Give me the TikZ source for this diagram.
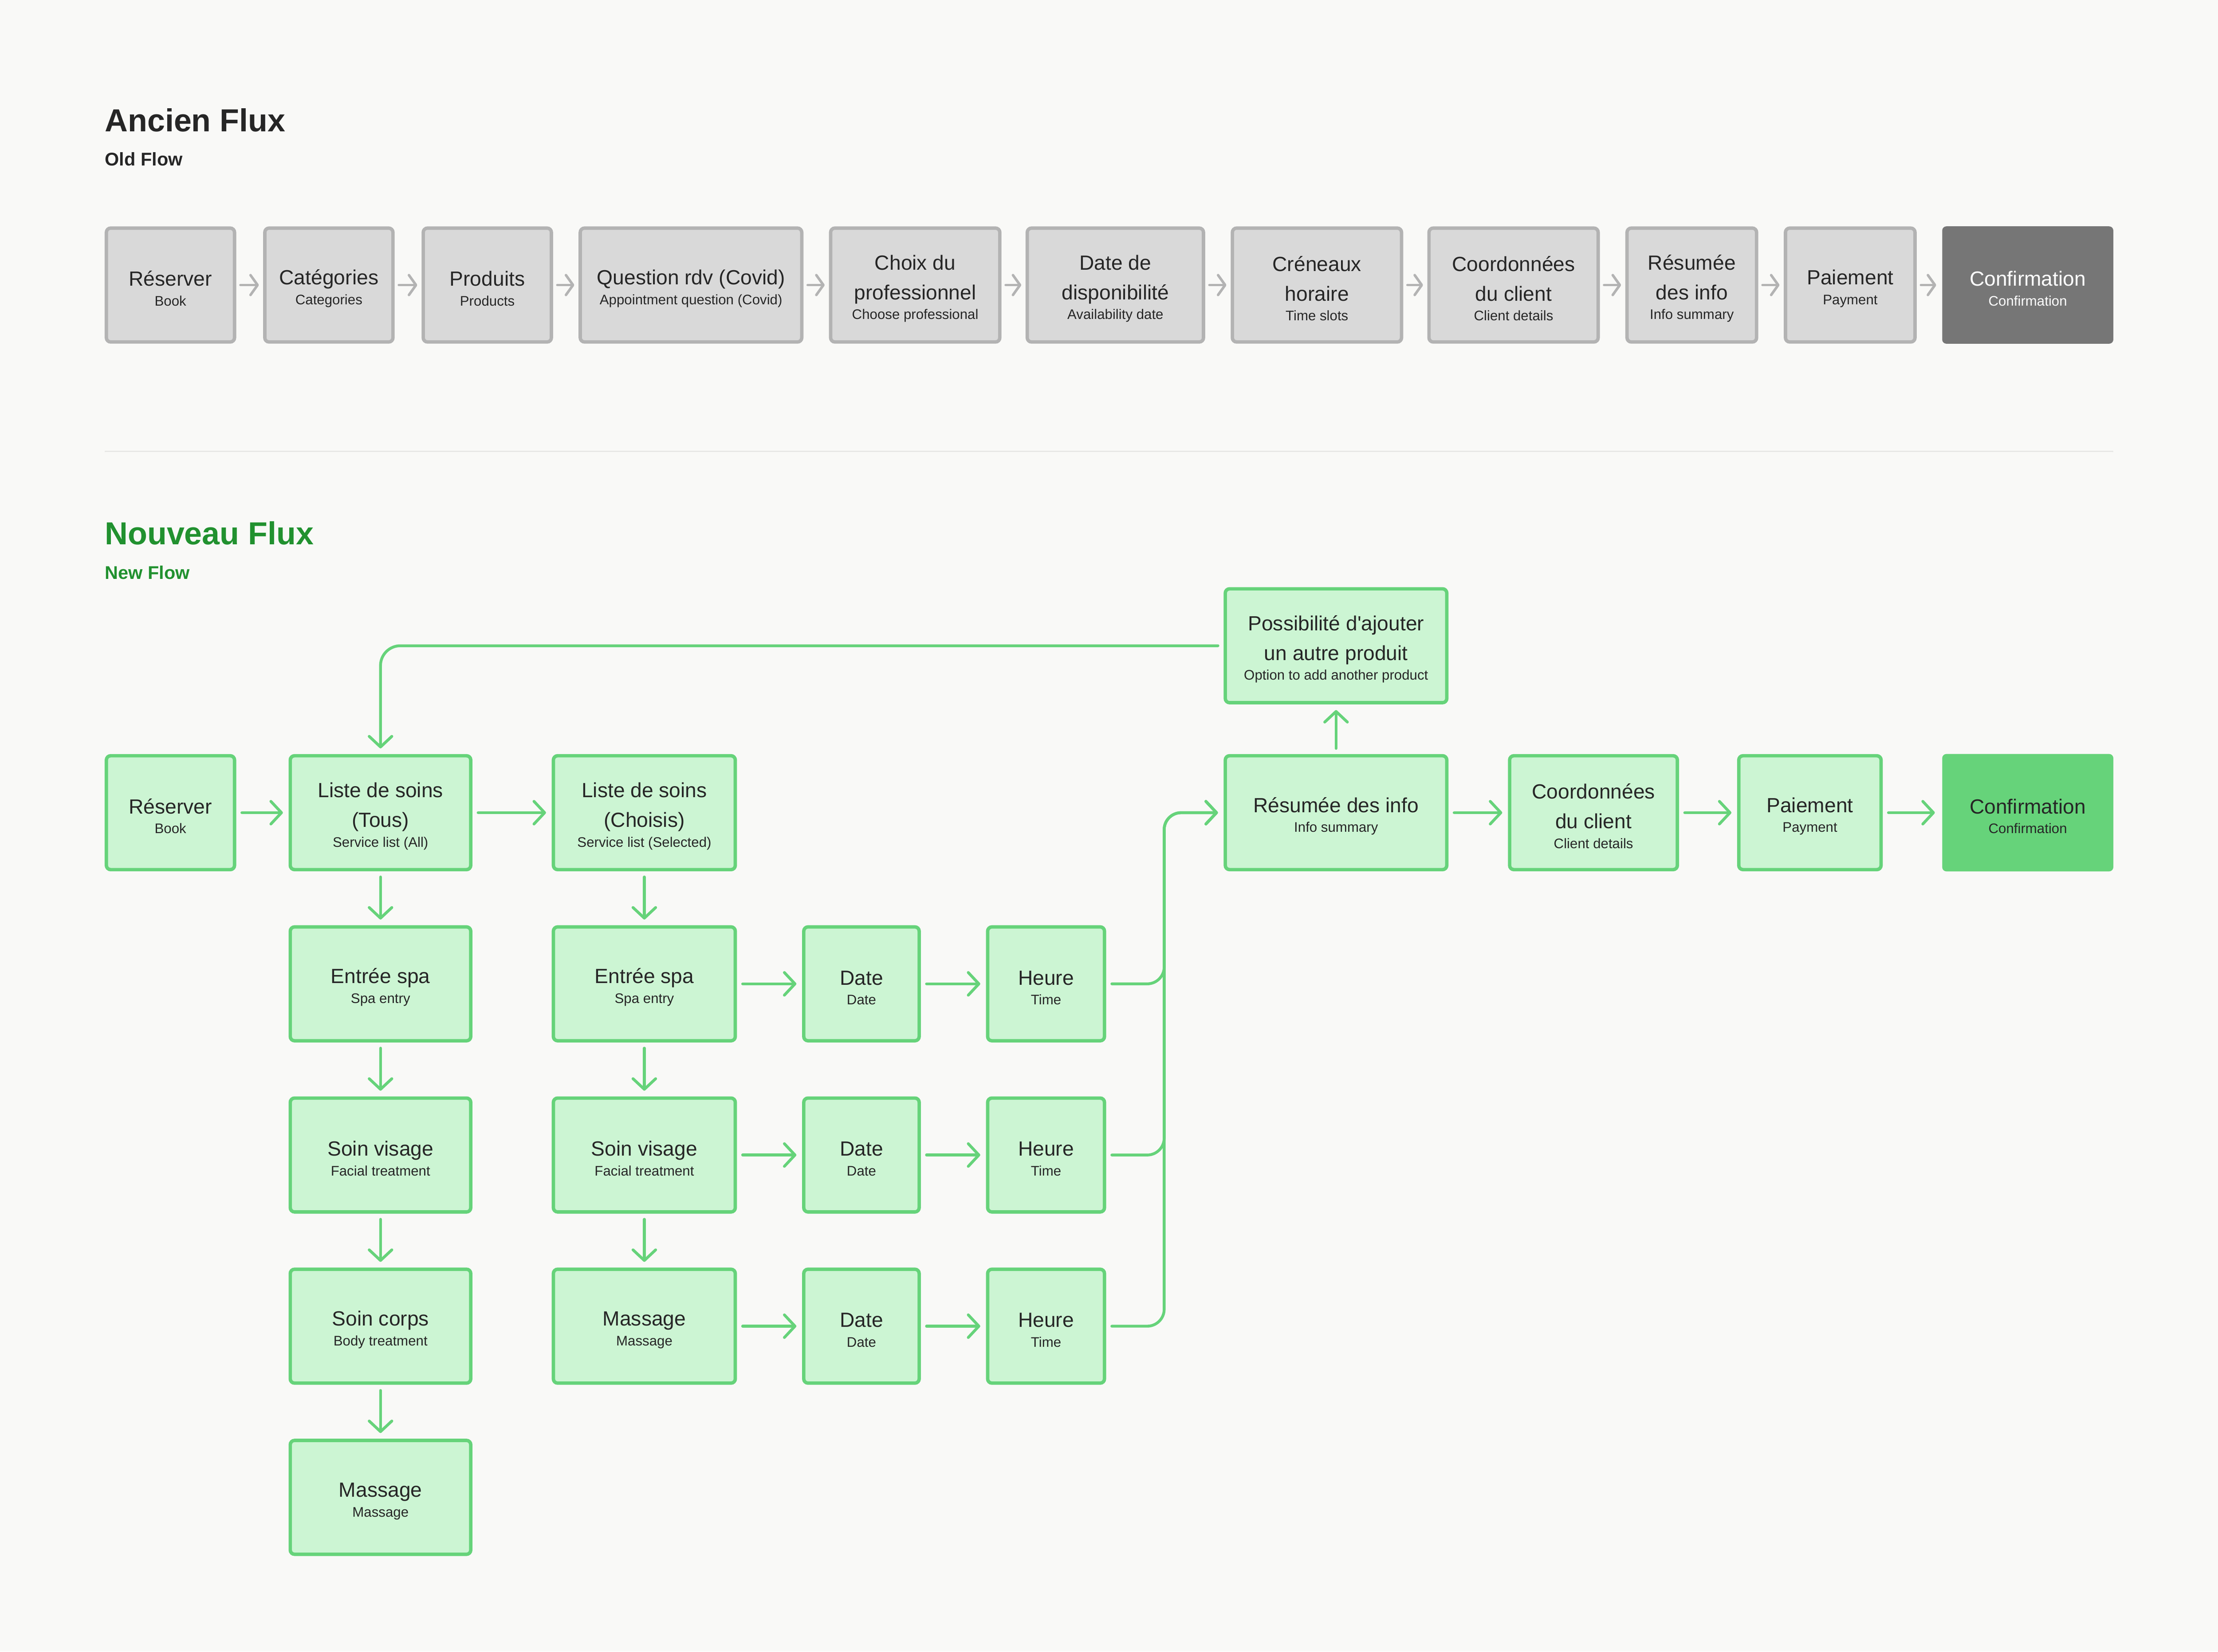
\documentclass[tikz,border=0pt]{standalone}
\usepackage{fontspec}
\setmainfont{Liberation Sans}
\usetikzlibrary{arrows.meta}

\definecolor{bgcol}{HTML}{F9F9F7}
\definecolor{oldfill}{HTML}{D9D9D9}
\definecolor{oldline}{HTML}{B3B3B3}
\definecolor{olddark}{HTML}{767676}
\definecolor{newfill}{HTML}{CCF5D3}
\definecolor{newline}{HTML}{66D37A}
\definecolor{newtitle}{HTML}{21912F}
\definecolor{ink}{HTML}{262626}
\definecolor{sepline}{HTML}{E8E8E6}

% french label, english line under it
\newcommand{\lbl}[2]{\rule{0pt}{15.5pt}#1\\[-7pt]{\fontsize{9.8}{11}\selectfont #2}}

\tikzset{
  box/.style={rectangle, rounded corners=3pt, line width=2.4pt, align=center,
    inner sep=0pt, minimum height=80.5pt, text=ink,
    font=\fontsize{14.5}{21}\selectfont},
  oldbox/.style={box, draw=oldline, fill=oldfill},
  newbox/.style={box, draw=newline, fill=newfill},
  title/.style={anchor=base west, inner sep=0pt},
  oldarrow/.style={draw=oldline, line width=1.8pt, line cap=round,
    -{Straight Barb[length=5pt,width=14pt,round]}, shorten <=3pt, shorten >=3pt},
  newarrow/.style={draw=newline, line width=2pt, line cap=round,
    -{Straight Barb[length=7.5pt,width=16pt,round]}, shorten <=4pt, shorten >=4pt},
}

\begin{document}
\begin{tikzpicture}[x=1pt, y=-1pt]
  \fill[bgcol] (0,0) rectangle (1568,1167.6);
  \useasboundingbox (0,0) rectangle (1568,1167.6);

  \pgfmathsetmacro{\yo}{201.5}
  \pgfmathsetmacro{\yn}{574.5}

  % ancien flux
  \node[title, font=\fontsize{22.5}{26}\selectfont\bfseries, text=ink] (oTitle) at (74,93) {Ancien Flux};
  \node[title, font=\fontsize{13}{15}\selectfont\bfseries, text=ink] (oSubtitle) at (74,117) {Old Flow};

  \node[oldbox, minimum width=90.6pt] (oBook) at (120.5,\yo) {\lbl{Réserver}{Book}};
  \node[oldbox, minimum width=90.6pt] (oCat) at (232.5,\yo) {\lbl{Catégories}{Categories}};
  \node[oldbox, minimum width=90.6pt] (oProd) at (344.5,\yo) {\lbl{Produits}{Products}};
  \node[oldbox, minimum width=156.6pt] (oQuest) at (488.5,\yo) {\lbl{Question rdv (Covid)}{Appointment question (Covid)}};
  \node[oldbox, minimum width=119.6pt] (oPro) at (647,\yo) {\lbl{Choix du\\professionnel}{Choose professional}};
  \node[oldbox, minimum width=124.6pt] (oDispo) at (788.5,\yo) {\lbl{Date de\\disponibilité}{Availability date}};
  \node[oldbox, minimum width=119.6pt] (oSlots) at (931,\yo) {\lbl{Créneaux\\horaire}{Time slots}};
  \node[oldbox, minimum width=119.6pt] (oClient) at (1070,\yo) {\lbl{Coordonnées\\du client}{Client details}};
  \node[oldbox, minimum width=91.6pt] (oSum) at (1196,\yo) {\lbl{Résumée\\des info}{Info summary}};
  \node[oldbox, minimum width=91.6pt] (oPay) at (1308,\yo) {\lbl{Paiement}{Payment}};
  \node[box, fill=olddark, text=white, minimum width=121pt, minimum height=83pt] (oConf) at (1433.5,\yo) {\lbl{Confirmation}{Confirmation}};

  \foreach \a/\b in {oBook/oCat, oCat/oProd, oProd/oQuest, oQuest/oPro, oPro/oDispo,
                     oDispo/oSlots, oSlots/oClient, oClient/oSum, oSum/oPay, oPay/oConf}
    \draw[oldarrow] (\a) -- (\b);

  \draw[sepline, line width=1pt] (74,319) -- (1494,319);

  % nouveau flux
  \node[title, font=\fontsize{22.5}{26}\selectfont\bfseries, text=newtitle] (nTitle) at (74,385) {Nouveau Flux};
  \node[title, font=\fontsize{13}{15}\selectfont\bfseries, text=newtitle] (nSubtitle) at (74,409.5) {New Flow};

  \node[newbox, minimum width=90.6pt] (nBook) at (120.5,\yn) {\lbl{Réserver}{Book}};
  \node[newbox, minimum width=127.6pt] (nAll) at (269,\yn) {\lbl{Liste de soins\\(Tous)}{Service list (All)}};
  \node[newbox, minimum width=128.6pt] (nSel) at (455.5,\yn) {\lbl{Liste de soins\\(Choisis)}{Service list (Selected)}};
  \node[newbox, minimum width=156.6pt] (nSum) at (944.5,\yn) {\lbl{Résumée des info}{Info summary}};
  \node[newbox, minimum width=156.6pt] (nMore) at (944.5,456.5) {\lbl{Possibilité d\textquotesingle ajouter\\un autre produit}{Option to add another product}};
  \node[newbox, minimum width=118.6pt] (nClient) at (1126.5,\yn) {\lbl{Coordonnées\\du client}{Client details}};
  \node[newbox, minimum width=100.6pt] (nPay) at (1279.5,\yn) {\lbl{Paiement}{Payment}};
  \node[box, fill=newline, minimum width=121pt, minimum height=83pt] (nConf) at (1433.5,\yn) {\lbl{Confirmation}{Confirmation}};

  % tous
  \node[newbox, minimum width=127.6pt] (aSpa) at (269,695.5) {\lbl{Entrée spa}{Spa entry}};
  \node[newbox, minimum width=127.6pt] (aFace) at (269,816.5) {\lbl{Soin visage}{Facial treatment}};
  \node[newbox, minimum width=127.6pt] (aBody) at (269,937.5) {\lbl{Soin corps}{Body treatment}};
  \node[newbox, minimum width=127.6pt] (aMass) at (269,1058.5) {\lbl{Massage}{Massage}};

  % choisis
  \node[newbox, minimum width=128.6pt] (sSpa) at (455.5,695.5) {\lbl{Entrée spa}{Spa entry}};
  \node[newbox, minimum width=128.6pt] (sFace) at (455.5,816.5) {\lbl{Soin visage}{Facial treatment}};
  \node[newbox, minimum width=128.6pt] (sMass) at (455.5,937.5) {\lbl{Massage}{Massage}};

  \node[newbox, minimum width=81.6pt] (d1) at (609,695.5) {\lbl{Date}{Date}};
  \node[newbox, minimum width=81.6pt] (d2) at (609,816.5) {\lbl{Date}{Date}};
  \node[newbox, minimum width=81.6pt] (d3) at (609,937.5) {\lbl{Date}{Date}};
  \node[newbox, minimum width=82.6pt] (t1) at (739.5,695.5) {\lbl{Heure}{Time}};
  \node[newbox, minimum width=82.6pt] (t2) at (739.5,816.5) {\lbl{Heure}{Time}};
  \node[newbox, minimum width=82.6pt] (t3) at (739.5,937.5) {\lbl{Heure}{Time}};

  \foreach \a/\b in {nBook/nAll, nAll/nSel, nSum/nClient, nClient/nPay, nPay/nConf,
                     nAll/aSpa, aSpa/aFace, aFace/aBody, aBody/aMass,
                     nSel/sSpa, sSpa/sFace, sFace/sMass,
                     sSpa/d1, sFace/d2, sMass/d3, d1/t1, d2/t2, d3/t3, nSum/nMore}
    \draw[newarrow] (\a) -- (\b);

  % retour vers la liste
  \draw[newarrow, rounded corners=14pt] (nMore.west) -| (nAll.north);

  % heures vers le resume
  \coordinate (jn) at (823,\yn);
  \draw[newarrow, rounded corners=12pt] (t1.east) -| (jn) -- (nSum.west);
  \draw[newarrow, rounded corners=12pt] (t2.east) -| (jn) -- (nSum.west);
  \draw[newarrow, rounded corners=12pt] (t3.east) -| (jn) -- (nSum.west);
\end{tikzpicture}
\end{document}
